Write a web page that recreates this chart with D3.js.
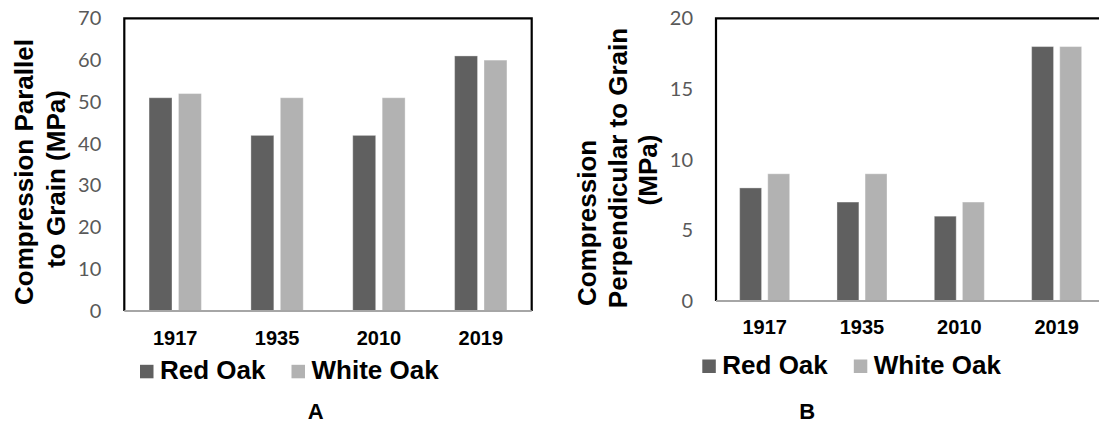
<!DOCTYPE html>
<html>
<head>
<meta charset="utf-8">
<script src="https://cdn.jsdelivr.net/npm/d3@7"></script>
<style>
  html, body { margin: 0; padding: 0; background: #ffffff; }
  svg { display: block; }
</style>
</head>
<body>
<svg id="chart" width="1099" height="423"></svg>
<script>
// Test years and the two species compared in each panel
const years = ["1917", "1935", "2010", "2019"];
const species = ["Red Oak", "White Oak"];

// Panel A: compression parallel to grain (MPa)
const parallelRedOak = [51, 42, 42, 61];
const parallelWhiteOak = [52, 51, 51, 60];
const parallelTicks = [0, 10, 20, 30, 40, 50, 60, 70];

// Panel B: compression perpendicular to grain (MPa)
const perpRedOak = [8, 7, 6, 18];
const perpWhiteOak = [9, 9, 7, 18];
const perpTicks = [0, 5, 10, 15, 20];

const speciesColor = d3.scaleOrdinal().domain(species).range(["#606060", "#b2b2b2"]);

const svg = d3.select("#chart");

function drawPanel(cfg) {
  const g = svg.append("g");
  const x = d3.scaleBand().domain(years).range([cfg.left, cfg.right]).padding(0);
  const y = d3.scaleLinear().domain([0, cfg.max]).range([cfg.bottom, cfg.top]);

  // bars within each year group
  const groupW = x.bandwidth() * 0.514;
  const inner = d3.scaleBand().domain(species).range([-groupW / 2, groupW / 2]).paddingInner(0.22);

  const rows = years.map((yr, i) => ({ year: yr, values: [cfg.red[i], cfg.white[i]] }));

  const groups = g.selectAll("g.year").data(rows).join("g")
    .attr("class", "year")
    .attr("transform", d => `translate(${x(d.year) + x.bandwidth() / 2},0)`);

  groups.selectAll("rect").data(d => d.values.map((v, k) => ({ sp: species[k], v })))
    .join("rect")
    .attr("x", d => inner(d.sp))
    .attr("width", inner.bandwidth())
    .attr("y", d => y(d.v))
    .attr("height", d => y(0) - y(d.v))
    .attr("fill", d => speciesColor(d.sp))
    .attr("stroke", "#ffffff").attr("stroke-opacity", 0.35).attr("stroke-width", 1);

  // plot frame
  g.append("path")
    .attr("d", `M${cfg.left},${cfg.bottom}V${cfg.top}H${cfg.right}V${cfg.bottom}`)
    .attr("fill", "none").attr("stroke", "#000").attr("stroke-width", 2.2);
  // baseline at zero
  g.append("line")
    .attr("x1", cfg.left).attr("x2", cfg.right)
    .attr("y1", y(0)).attr("y2", y(0))
    .attr("stroke", "#a6a6a6").attr("stroke-width", 1.8);

  // value axis
  const ya = g.append("g")
    .attr("transform", `translate(${cfg.left},0)`)
    .call(d3.axisLeft(y).tickValues(cfg.ticks).tickSize(0).tickPadding(23));
  ya.select(".domain").remove();
  ya.selectAll("text")
    .attr("font-family", "Lato, 'Open Sans', sans-serif")
    .attr("font-size", 20)
    .attr("fill", "#595959");

  // year axis
  const xa = g.append("g")
    .attr("transform", `translate(0,${cfg.bottom})`)
    .call(d3.axisBottom(x).tickSize(0));
  xa.select(".domain").remove();
  xa.selectAll("text")
    .attr("y", cfg.yearOffset).attr("dy", 0)
    .attr("font-family", "'Liberation Sans', Arial, sans-serif")
    .attr("font-weight", "bold")
    .attr("font-size", 20)
    .attr("fill", "#000");

  // axis title, one rotated line per entry
  cfg.title.forEach((line, i) => {
    g.append("text")
      .attr("transform", `translate(${cfg.titleX[i]},${cfg.titleY[i]}) rotate(-90)`)
      .attr("text-anchor", cfg.titleAnchor[i])
      .attr("font-family", "'Liberation Sans', Arial, sans-serif")
      .attr("font-weight", "bold")
      .attr("font-size", 26)
      .attr("fill", "#000")
      .text(line);
  });

  // legend
  let lx = cfg.legendX;
  species.forEach(sp => {
    g.append("rect")
      .attr("x", lx).attr("y", cfg.legendY - 14.5)
      .attr("width", 13.5).attr("height", 13.5)
      .attr("fill", speciesColor(sp));
    const t = g.append("text")
      .attr("x", lx + 20).attr("y", cfg.legendY)
      .attr("font-family", "'Liberation Sans', Arial, sans-serif")
      .attr("font-weight", "bold")
      .attr("font-size", 26)
      .attr("fill", "#000")
      .text(sp);
    lx += 20 + t.node().getComputedTextLength() + 26;
  });

  // panel letter
  g.append("text")
    .attr("x", cfg.letterX).attr("y", 419)
    .attr("text-anchor", "middle")
    .attr("font-family", "'Liberation Sans', Arial, sans-serif")
    .attr("font-weight", "bold")
    .attr("font-size", 22)
    .attr("fill", "#000")
    .text(cfg.letter);
}

drawPanel({
  left: 124.3, right: 531.7, top: 18.3, bottom: 311,
  max: 70, ticks: parallelTicks,
  red: parallelRedOak, white: parallelWhiteOak,
  yearOffset: 34,
  title: ["Compression Parallel", "to Grain (MPa)"],
  titleX: [33, 65], titleY: [172, 179], titleAnchor: ["middle", "middle"],
  legendX: 140, legendY: 379.3,
  letter: "A", letterX: 315.7
});

drawPanel({
  left: 716, right: 1105.3, top: 18.3, bottom: 301,
  max: 20, ticks: perpTicks,
  red: perpRedOak, white: perpWhiteOak,
  yearOffset: 33,
  title: ["Compression", "Perpendicular to Grain", "(MPa)"],
  titleX: [596, 627, 657], titleY: [306, 168, 170], titleAnchor: ["start", "middle", "middle"],
  legendX: 702.3, legendY: 374,
  letter: "B", letterX: 807.3
});
</script>
</body>
</html>
